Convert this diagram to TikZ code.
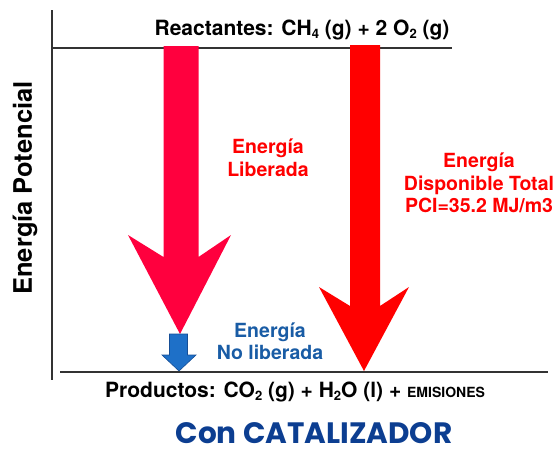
\documentclass[tikz,border=0pt]{standalone}
\usepackage{fontspec}
\setmainfont{TeX Gyre Heros}
\newfontfamily\titlefont{Poppins}
\usetikzlibrary{positioning}
\definecolor{pinkred}{RGB}{255,0,62}
\definecolor{purered}{RGB}{255,0,0}
\definecolor{arrowblue}{RGB}{30,112,200}
\definecolor{edgeblue}{RGB}{22,78,150}
\definecolor{textblue}{RGB}{25,92,165}
\definecolor{titleblue}{RGB}{12,62,145}
\newcommand*{\chemsub}[1]{\raisebox{-0.35ex}{\fontsize{13}{13}\selectfont #1}}
\tikzstyle{level} = [draw=black!80, line width=1.2pt]
\tikzstyle{formula} = [font=\fontsize{21}{24}\selectfont\bfseries, inner sep=0pt]
\tikzstyle{note} = [font=\fontsize{19.5}{22.5}\selectfont\bfseries, align=center, inner sep=0pt]
\tikzstyle{released} = [fill=pinkred]
\tikzstyle{total} = [fill=purered]
\tikzstyle{kept} = [fill=arrowblue, draw=edgeblue, line width=0.6pt]

\begin{document}
\begin{tikzpicture}[x=1pt, y=-1pt]
    \useasboundingbox (0,0) rectangle (557,448);

    % Levels.
    \coordinate (axis top) at (52,10);
    \coordinate (axis bottom) at (52,380);
    \coordinate (react r) at (452,48);
    \coordinate (prod l) at (60,372);
    \coordinate (prod r) at (548,372);
    \draw [level] (axis top) -- (axis bottom);
    \draw [level] (axis top |- react r) -- (react r);
    \draw [level] (prod l) -- (prod r);

    % Arrows.
    \fill [released] (163.5,46) -- (198.5,46) -- (198.5,257) -- (231,235)
        -- (180,334) -- (128,235) -- (163.5,257) -- cycle;
    \fill [total] (350,45) -- (380,45) -- (380,306) -- (409,287)
        -- (364,371) -- (319,287) -- (350,306) -- cycle;
    \filldraw [kept] (169.5,334) -- (187.5,334) -- (187.5,355) -- (196,355)
        -- (179,371) -- (162,355) -- (169.5,355) -- cycle;

    % Labels.
    \node (reactants) [formula, anchor=base] at (302,35)
        {Reactantes: CH\chemsub{4} (g) + 2 O\chemsub{2} (g)};
    \node (products) [formula, anchor=base west] at (105,397)
        {Productos: CO\chemsub{2} (g) + H\chemsub{2}O (l) + {\fontsize{14}{14}\selectfont EMISIONES}};
    \node (axis label) [font=\fontsize{25.5}{25.5}\selectfont\bfseries, rotate=90] at (25,188)
        {Energía Potencial};
    \node (released) [note, text=purered] at (268,157.5) {Energía\\Liberada};
    \node (total) [note, text=purered] at (479,183) {Energía\\Disponible Total\\PCI=35.2 MJ/m3};
    \node (kept) [note, text=textblue] at (270,341) {Energía\\No liberada};
    \node (title) [font=\titlefont\fontsize{29.5}{29.5}\selectfont\bfseries, text=titleblue,
        anchor=base, inner sep=0pt] at (314,443) {Con CATALIZADOR};
\end{tikzpicture}
\end{document}
